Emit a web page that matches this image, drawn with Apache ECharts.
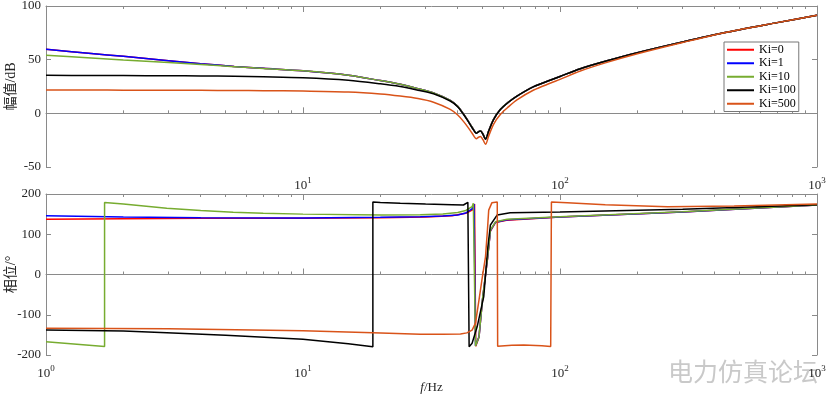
<!DOCTYPE html>
<html>
<head>
<meta charset="utf-8">
<script src="https://cdn.jsdelivr.net/npm/echarts@6/dist/echarts.min.js"></script>
<style>
html,body{margin:0;padding:0;background:#fff;}
#chart{width:830px;height:396px;}
</style>
</head>
<body>
<div id="chart"></div>
<script>
// ---------- data ----------
const seriesNames = ['Ki=0', 'Ki=1', 'Ki=10', 'Ki=100', 'Ki=500'];
const seriesColors = ['#ff0000', '#0000ff', '#77ac30', '#000000', '#d95319'];

const majorTicks = [1, 10, 100, 1000];
const minorTicks = [2,3,4,5,6,7,8,9,20,30,40,50,60,70,80,90,200,300,400,500,600,700,800,900];
const magTicks = [-50, 0, 50, 100];
const phaseTicks = [-200, -100, 0, 100, 200];

// magnitude (dB) read at these frequencies (Hz)
const magFreq = [1, 1.5, 2, 3, 4, 5.4, 7, 10, 15, 20, 23.9, 28, 32.2, 37.4, 40, 42.1, 44, 45.5, 47.3, 48.2, 49, 50.2, 51.3, 52.8, 55.2, 58.7, 63, 68, 79, 92, 100, 120, 150, 200, 300, 450, 700, 1000];
const magKi0   = [59.6, 55.8, 53.1, 49.1, 46.3, 43.7, 41.9, 39.6, 35.5, 30.5, 27.0, 23.0, 19.0, 12.0, 6.5, -0.5, -7.5, -13.0, -18.3, -17.0, -16.3, -19.5, -24.0, -16.3, -5.4, 3.8, 10.5, 16.1, 24.9, 31.0, 34.3, 41.6, 48.5, 56.5, 66.5, 75.8, 84.5, 91.3];
const magKi1   = [59.6, 55.8, 53.1, 49.1, 46.3, 43.7, 41.9, 39.6, 35.5, 30.5, 27.0, 23.0, 19.0, 12.0, 6.5, -0.5, -7.5, -13.0, -18.3, -17.0, -16.3, -19.5, -24.0, -16.3, -5.4, 3.8, 10.5, 16.1, 24.9, 31.0, 34.3, 41.6, 48.5, 56.5, 66.5, 75.8, 84.5, 91.3];
const magKi10  = [54.0, 51.6, 49.7, 47.3, 45.5, 43.5, 41.8, 39.6, 35.5, 30.5, 27.0, 23.0, 19.0, 12.0, 6.5, -0.5, -7.5, -13.0, -18.3, -17.0, -16.3, -19.5, -24.0, -16.3, -5.4, 3.8, 10.5, 16.1, 24.9, 31.0, 34.3, 41.6, 48.5, 56.5, 66.5, 75.8, 84.5, 91.3];
const magKi100 = [35.4, 35.3, 35.2, 35.0, 34.8, 34.5, 34.0, 33.1, 30.8, 27.5, 24.9, 21.6, 18.3, 11.5, 6.2, -0.9, -7.8, -13.4, -18.6, -17.2, -16.5, -19.8, -24.2, -16.5, -5.6, 3.7, 10.3, 16.1, 24.9, 31.0, 34.3, 41.6, 48.5, 56.5, 66.5, 75.8, 84.5, 91.3];
const magKi500 = [21.7, 21.7, 21.6, 21.5, 21.4, 21.3, 21.1, 20.8, 19.8, 18.0, 16.1, 13.8, 10.4, 3.7, -1.5, -7.5, -13.5, -18.5, -23.6, -22.3, -21.7, -24.8, -28.9, -21.0, -10.0, -0.9, 6.0, 12.5, 21.7, 28.2, 31.6, 39.4, 47.0, 55.5, 66.0, 75.8, 84.5, 91.3];

// phase (deg) as [frequency Hz, degrees]
const phaseKi0 = [[1,137],[2,138.5],[4,139.5],[10,140],[20,141],[30,143],[38,146],[43,152],[45.5,160],[46.5,175],[47,-178],[48.4,-155],[49.9,-65],[52.3,42],[53.6,108],[56.1,129],[62,135],[100,143],[300,155],[1000,172.7]];
const phaseKi1 = [[1,146],[2,143],[4,141],[10,140.5],[20,142],[28.6,143.6],[35,145.5],[40,148],[43,153],[45.5,163],[46.3,175],[46.9,-177],[48.4,-155],[49.9,-64],[52.3,43],[53.6,109],[56.1,130],[62.3,136],[100,143],[300,155.5],[1000,172.7]];
const phaseKi10 = [[1,-167],[1.69,-179],[1.69,179],[2,175],[2.95,164.5],[4,159],[5.35,154.5],[7,152],[10,150],[20.2,148],[28.6,148.6],[35,150.5],[40,154],[43,159],[45.5,168.5],[46,177],[46.9,-177.6],[48.4,-154.5],[49.9,-63],[52.3,44],[53.6,110.6],[56.1,131],[62.3,137],[100,143.6],[300,156],[1000,172.7]];
const phaseKi100 = [[1,-138],[2,-140.5],[2.95,-144.5],[5,-151],[10,-161],[15,-172],[18.7,-179.5],[18.7,180],[20,179],[23.9,177],[30,175],[38,173.5],[42.1,172.7],[43.8,179.4],[44.3,-179.4],[45.5,-171],[47.6,-130],[50.5,-55],[52.4,69],[53.6,123],[57,148],[64,153.6],[100,155],[300,162],[1000,173.5]];
const phaseKi500 = [[1,-133.8],[3,-134.5],[10,-139.5],[18.7,-144.5],[28.6,-148.6],[35,-148.5],[41,-148],[43.4,-145],[45.5,-138],[46.9,-121],[48.4,-63],[49.9,-5],[51.3,44],[52.2,110.6],[52.8,160],[54.3,178],[57,180],[57.2,-178],[65,-176],[72.3,-175],[85,-177],[92,-179],[92.6,180],[106.7,178],[150,173],[262,168.5],[476,170],[1000,175]];

// ---------- chart ----------
const magData = [magKi0, magKi1, magKi10, magKi100, magKi500];
const phaseData = [phaseKi0, phaseKi1, phaseKi10, phaseKi100, phaseKi500];

const FONT = "'Liberation Serif', 'Times New Roman', 'Noto Sans CJK SC', serif";
const TXT = '#262626';
const AX = '#8a8a8a';

const supFmt = function (v) {
  const e = Math.round(Math.log10(v));
  return '{b|10}{s|' + e + '}';
};
const supRich = {
  b: { fontFamily: FONT, fontSize: 13, color: TXT, padding: [6, 0, 0, 0] },
  s: { fontFamily: FONT, fontSize: 9, color: TXT, padding: [0, 0, 4, 0] }
};

function xAxes(gi, showFirst) {
  const base = { type: 'log', logBase: 10, min: 1, max: 1000, gridIndex: gi, splitLine: { show: false } };
  const labels = showFirst ? majorTicks : majorTicks.slice(1);
  const out = [
    Object.assign({}, base, {
      position: 'bottom',
      axisLine: { show: true, lineStyle: { color: AX, width: 1 } },
      axisTick: { show: true, inside: true, length: 6, customValues: majorTicks, lineStyle: { color: AX } },
      axisLabel: { show: true, customValues: labels, formatter: supFmt, rich: supRich, margin: 6 }
    }),
    Object.assign({}, base, {
      position: 'bottom',
      axisLine: { show: false },
      axisTick: { show: true, inside: true, length: 3, customValues: minorTicks, lineStyle: { color: AX } },
      axisLabel: { show: false }
    }),
    Object.assign({}, base, {
      position: 'top',
      axisLine: { show: true, lineStyle: { color: AX, width: 1 } },
      axisTick: { show: true, inside: true, length: 6, customValues: majorTicks, lineStyle: { color: AX } },
      axisLabel: { show: false }
    }),
    Object.assign({}, base, {
      position: 'top',
      axisLine: { show: false },
      axisTick: { show: true, inside: true, length: 3, customValues: minorTicks, lineStyle: { color: AX } },
      axisLabel: { show: false }
    })
  ];
  if (gi === 1) {
    out[0].name = '{i|f}/Hz';
    out[0].nameLocation = 'middle';
    out[0].nameGap = 26;
    out[0].nameMoveOverlap = false;
    out[0].nameTextStyle = {
      fontFamily: FONT, fontSize: 13, color: TXT,
      rich: { i: { fontFamily: FONT, fontStyle: 'italic', fontSize: 13, color: TXT } }
    };
  }
  return out;
}

function yAxes(gi, ticks, name) {
  const mn = ticks[0], mx = ticks[ticks.length - 1], step = ticks[1] - ticks[0];
  return [
    {
      type: 'value', gridIndex: gi, position: 'left', min: mn, max: mx, interval: step,
      name: name, nameLocation: 'middle', nameGap: 28, nameRotate: 90, nameMoveOverlap: false,
      nameTextStyle: { fontFamily: FONT, fontSize: 14, color: TXT },
      axisLine: { show: true, lineStyle: { color: AX, width: 1 } },
      axisTick: { show: true, inside: true, length: 5, lineStyle: { color: AX } },
      axisLabel: { show: true, fontFamily: FONT, fontSize: 13, color: TXT, margin: 5 },
      splitLine: { show: false }
    },
    {
      type: 'value', gridIndex: gi, position: 'right', min: mn, max: mx, interval: step,
      axisLine: { show: true, lineStyle: { color: AX, width: 1 } },
      axisTick: { show: true, inside: true, length: 5, lineStyle: { color: AX } },
      axisLabel: { show: false },
      splitLine: { show: false }
    }
  ];
}

const series = [];
seriesNames.forEach(function (nm, i) {
  series.push({
    name: nm, type: 'line', xAxisIndex: 0, yAxisIndex: 0,
    data: magFreq.map(function (f, k) { return [f, magData[i][k]]; }),
    showSymbol: false, smooth: 0.3, clip: true,
    lineStyle: { color: seriesColors[i], width: 1.5 },
    itemStyle: { color: seriesColors[i] }
  });
});
seriesNames.forEach(function (nm, i) {
  series.push({
    name: nm, type: 'line', xAxisIndex: 4, yAxisIndex: 2,
    data: phaseData[i],
    showSymbol: false, smooth: false, clip: true,
    lineStyle: { color: seriesColors[i], width: 1.5 },
    itemStyle: { color: seriesColors[i] }
  });
});

const chart = echarts.init(document.getElementById('chart'), null, { renderer: 'canvas' });
chart.setOption({
  animation: false,
  backgroundColor: '#ffffff',
  grid: [
    { left: 46, right: 13, top: 6, height: 161, containLabel: false, outerBoundsMode: 'none' },
    { left: 46, right: 13, top: 194, height: 161, containLabel: false, outerBoundsMode: 'none' }
  ],
  xAxis: xAxes(0, false).concat(xAxes(1, true)),
  yAxis: yAxes(0, magTicks, '幅值/dB').concat(yAxes(1, phaseTicks, '相位/°')),
  legend: {
    show: true, orient: 'vertical', left: 724, top: 42,
    data: seriesNames,
    icon: 'rect', itemWidth: 27, itemHeight: 2, itemGap: 0,
    padding: [1, 3, 1, 3],
    backgroundColor: '#ffffff', borderColor: '#777777', borderWidth: 1, borderRadius: 0,
    textStyle: { fontFamily: FONT, fontSize: 12, color: '#000', lineHeight: 13.5 }
  },
  graphic: [{
    type: 'text', left: 668, top: 359, z: -1,
    style: { text: '电力仿真论坛', font: "25px 'Noto Sans CJK SC'", fill: '#c9c9c9' }
  }],
  series: series
});
</script>
</body>
</html>
